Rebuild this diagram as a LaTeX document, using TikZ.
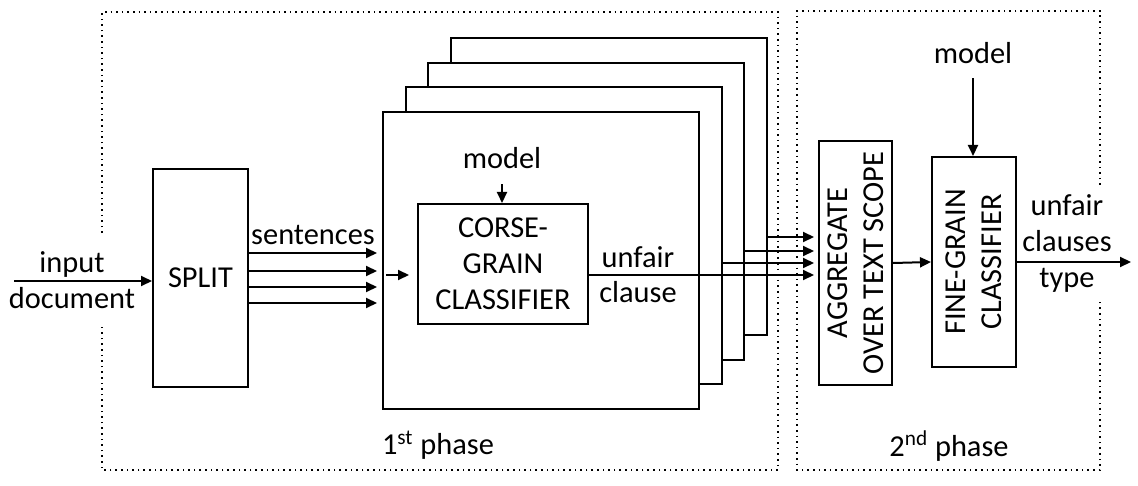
\documentclass[tikz,border=0pt]{standalone}
\usepackage{fontspec}
\setmainfont{Carlito}
\usetikzlibrary{arrows.meta, positioning}

\begin{document}
\begin{tikzpicture}[x=0.5pt, y=0.5pt,
  font=\fontsize{15.2}{18}\selectfont,
  blk/.style={draw, line width=1pt, fill=white, inner sep=0pt, align=center},
  arr/.style={-{Triangle[length=5.5pt,width=5pt]}, line width=1pt},
  phase/.style={dotted, line width=0.8pt},
  lbl/.style={align=center, inner sep=0pt},
]
\useasboundingbox (0,0) rectangle (1138,-486);

% phase frames
\draw[phase] (102,-233) -- (102,-12) -- (778,-12) -- (778,-470) -- (102,-470) -- (102,-326);
\draw[phase] (1100,-185) -- (1100,-11) -- (797,-11) -- (797,-470) -- (1100,-470) -- (1100,-298);
\node[lbl] (ph1) at (438,-445) {1\textsuperscript{st} phase};
\node[lbl] (ph2) at (949,-446) {2\textsuperscript{nd} phase};

% split
\node[blk, minimum width=47.5pt, minimum height=109pt] (split) at (200.5,-278) {SPLIT};
\coordinate (in) at (14,-281);
\draw[arr] (in) -- (split.west |- in);
\node[lbl] (inlbl) at (72,-264) {input};
\node[lbl] (doclbl) at (72,-298) {document};

% stack of coarse classifiers
\foreach \i in {3,2,1,0}
  \node[blk, minimum width=158pt, minimum height=148.5pt, anchor=north west]
    (s\i) at ({382+22.7*\i},{-111+24.7*\i}) {};

\node[lbl] (sent) at (313,-235) {sentences};
\foreach \y in {253,271,287,303}
  \draw[arr, shorten >=2.5pt] (split.east |- 0,-\y) -- (s0.west |- 0,-\y);

\node[blk, minimum width=85pt, minimum height=60pt] (cg) at (503,-264)
  {CORSE-\\GRAIN\\CLASSIFIER};
\node[lbl] (m1) at (502,-158) {model};
\draw[arr, shorten <=7.5pt] (m1.south) -- (m1.south |- cg.north);
\draw[arr, shorten <=2pt, shorten >=4pt] (s0.west |- 0,-275) -- (cg.west |- 0,-275);
\node[lbl] (uf) at (638,-257) {unfair};
\node[lbl] (cl) at (638,-292) {clause};

% second phase
\node[blk, minimum width=36.5pt, minimum height=122pt] (agg) at (855.5,-263) {};
\node[lbl, rotate=90] (aggtxt) at (agg.center) {AGGREGATE\\OVER TEXT SCOPE};

\draw[arr, shorten >=2pt] (s3.east |- 0,-237) -- (agg.west |- 0,-237);
\draw[arr, shorten >=2pt] (s2.east |- 0,-251) -- (agg.west |- 0,-251);
\draw[arr, shorten >=2pt] (s1.east |- 0,-263) -- (agg.west |- 0,-263);
\draw[arr, shorten >=2pt] (cg.east |- 0,-275) -- (agg.west |- 0,-275);

\node[blk, minimum width=42pt, minimum height=105pt] (fine) at (974,-262) {};
\node[lbl, rotate=90] (finetxt) at (fine.center) {FINE-GRAIN\\CLASSIFIER};
\draw[arr] (agg.east) -- (fine.west);

\node[lbl] (m2) at (973,-53) {model};
\draw[arr, shorten <=7pt] (m2.south) -- (m2.south |- fine.north);

\coordinate (out) at (1131,-262);
\draw[arr] (fine.east) -- (out);
\node[lbl] (outlbl) at (1067,-243) {unfair\\clauses\\type};
\end{tikzpicture}
\end{document}
